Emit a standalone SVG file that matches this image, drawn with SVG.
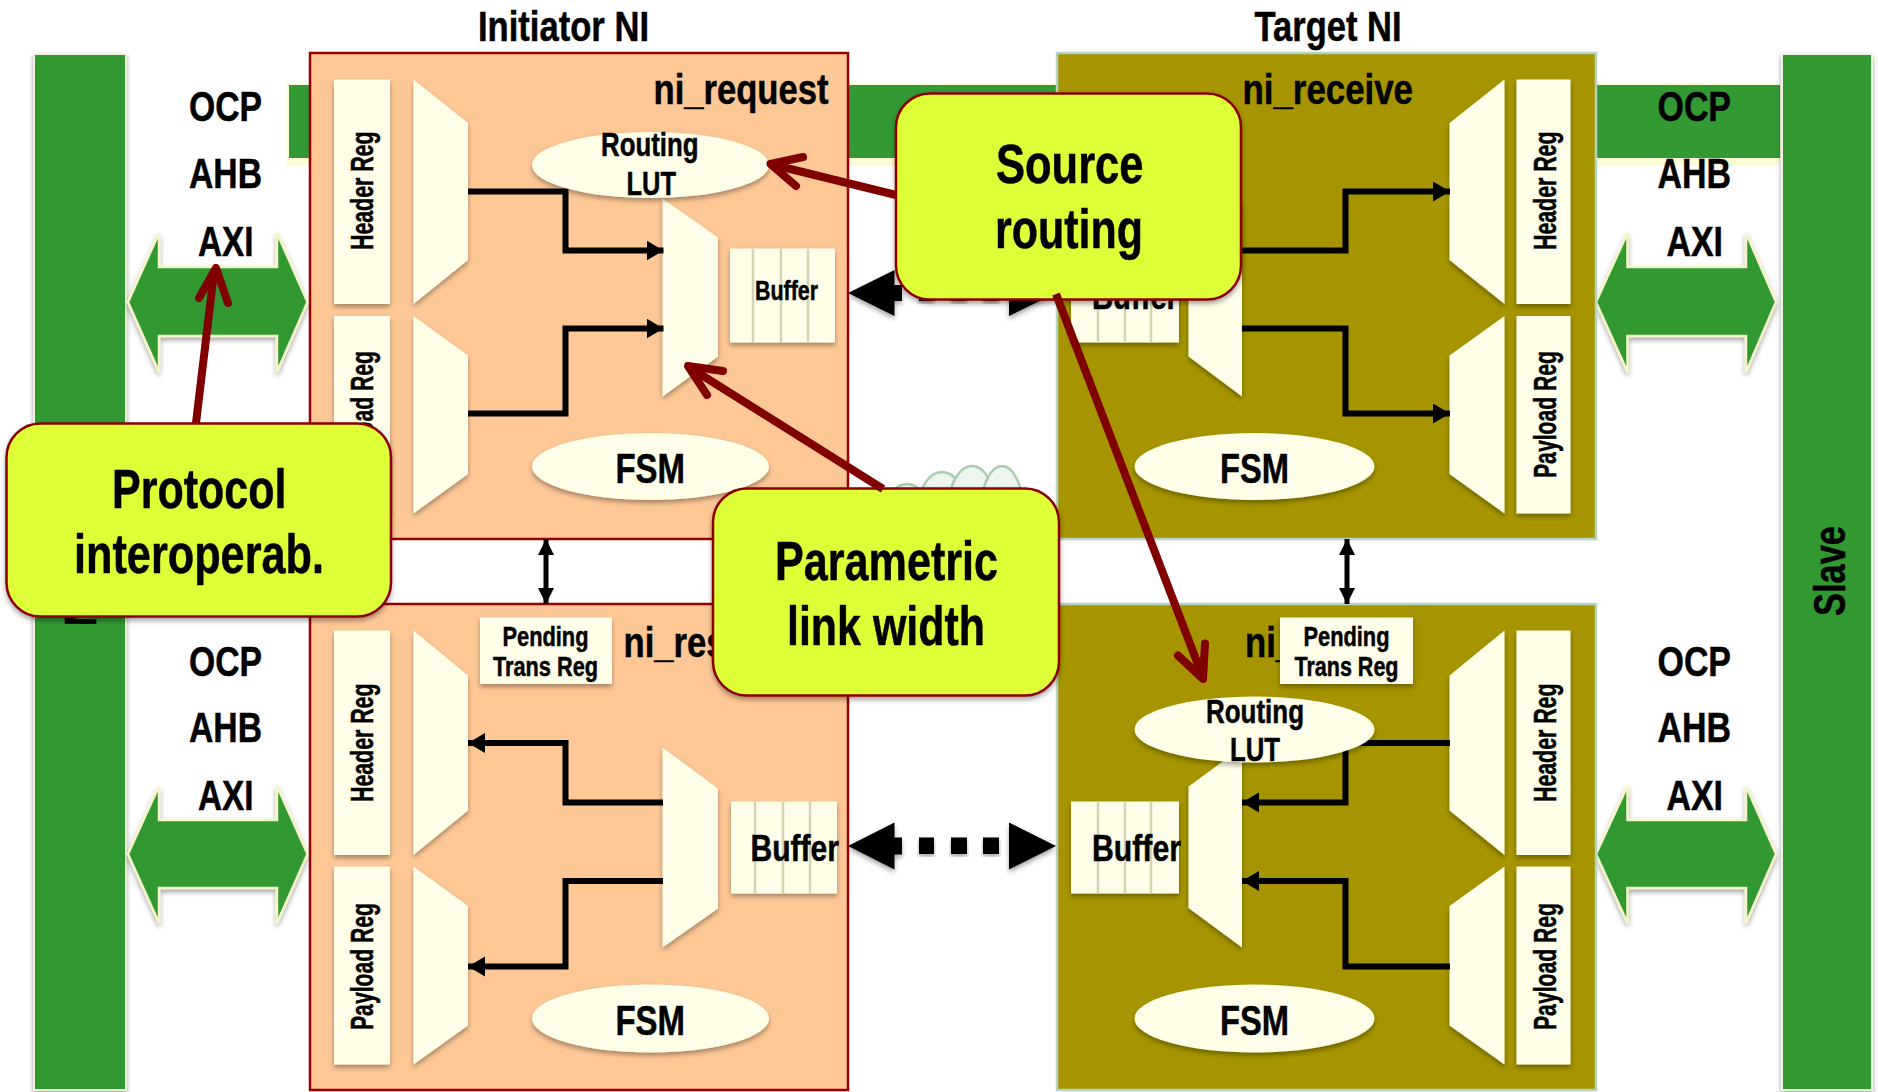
<svg xmlns="http://www.w3.org/2000/svg" width="1878" height="1092" viewBox="0 0 1878 1092">
<style>
text{font-family:"Liberation Sans",Arial,sans-serif;font-weight:700;fill:#000;stroke:#000;stroke-width:.5}
.reg,.mux,.ell,.buf,.pend{fill:#fefee9;filter:url(#sh)}
.bar{fill:#339933;stroke:#eef3dc;stroke-width:2;filter:url(#sh)}
.dbl{fill:#339933;stroke:#f4f6c8;stroke-width:2.5;filter:url(#sh)}
.pi{fill:#fec896;stroke:#990000;stroke-width:2.5}
.pt{fill:#a69500;stroke:#b5d3c5;stroke-width:2.5}
.div{stroke:#d5d3b3;stroke-width:2.5}
.wire{fill:none;stroke:#000;stroke-width:6;stroke-linejoin:miter}
.thin{fill:none;stroke:#000;stroke-width:5}
.call{fill:#deff37;stroke:#8b0000;stroke-width:2.5;filter:url(#sh)}
.red{fill:none;stroke:#800000;stroke-width:8;stroke-linecap:round;stroke-linejoin:round}
.redl{fill:none;stroke:#800000;stroke-width:8}
.cloud{fill:#ecf6ee;stroke:#a9cdb0;stroke-width:2.5}
.dash{fill:#000;filter:url(#sh)}
</style>
<defs>
<filter id="sh" x="-10%" y="-10%" width="120%" height="125%"><feDropShadow dx="0" dy="3" stdDeviation="2.5" flood-color="#000" flood-opacity="0.35"/></filter>
<marker id="ah" markerUnits="userSpaceOnUse" markerWidth="18" markerHeight="22" refX="17" refY="10" orient="auto"><path d="M0 0L17 10L0 20Z" fill="#000"/></marker>
<marker id="th" markerUnits="userSpaceOnUse" markerWidth="18" markerHeight="18" refX="16" refY="8" orient="auto-start-reverse"><path d="M0 0L16 8L0 16Z" fill="#000"/></marker>
</defs>
<rect width="1878" height="1092" fill="#fff"/>

<g id="title-initiator"><text x="478" y="40.500" font-size="42" textLength="171" lengthAdjust="spacingAndGlyphs">Initiator NI</text></g>
<g id="title-target"><text x="1254.500" y="40.500" font-size="42" textLength="147" lengthAdjust="spacingAndGlyphs">Target NI</text></g>

<g id="band"><rect x="286.500" y="83" width="1494" height="83" fill="#fbfbd5"/><rect x="289" y="85" width="1491" height="73" fill="#339933"/></g>

<g id="master"><rect class="bar" x="34" y="54" width="92" height="1036"/>
<text transform="translate(96 626) rotate(-90)" font-size="45" textLength="29" lengthAdjust="spacingAndGlyphs">M</text></g>
<g id="slave"><rect class="bar" x="1782" y="54" width="90" height="1036"/>
<text transform="translate(1844.500 616) rotate(-90)" font-size="45" textLength="90" lengthAdjust="spacingAndGlyphs">Slave</text></g>

<g id="protocols-left-top">
<text x="189" y="120.500" font-size="43" textLength="73" lengthAdjust="spacingAndGlyphs">OCP</text>
<text x="189" y="187.500" font-size="43" textLength="73" lengthAdjust="spacingAndGlyphs">AHB</text>
<polygon class="dbl" points="128,302 159,233 159,267 277,267 277,233 307.500,302 277,372 277,336 159,336 159,372"/>
<text x="198" y="255.500" font-size="43" textLength="55.500" lengthAdjust="spacingAndGlyphs">AXI</text>
</g>
<g id="protocols-left-bottom">
<text x="189" y="675.500" font-size="43" textLength="73" lengthAdjust="spacingAndGlyphs">OCP</text>
<text x="189" y="741.500" font-size="43" textLength="73" lengthAdjust="spacingAndGlyphs">AHB</text>
<polygon class="dbl" points="128,854 159,786 159,820 277,820 277,786 307.500,854 277,923 277,888 159,888 159,923"/>
<text x="198" y="810" font-size="43" textLength="55.500" lengthAdjust="spacingAndGlyphs">AXI</text>
</g>
<g id="protocols-right-top">
<text x="1657.500" y="120.500" font-size="43" textLength="73.500" lengthAdjust="spacingAndGlyphs">OCP</text>
<text x="1657.500" y="187.500" font-size="43" textLength="73.500" lengthAdjust="spacingAndGlyphs">AHB</text>
<polygon class="dbl" points="1596,302 1627.500,233 1627.500,267 1746,267 1746,233 1776,302 1746,372 1746,336 1627.500,336 1627.500,372"/>
<text x="1666.500" y="255.500" font-size="43" textLength="56.500" lengthAdjust="spacingAndGlyphs">AXI</text>
</g>
<g id="protocols-right-bottom">
<text x="1657.500" y="675.500" font-size="43" textLength="73.500" lengthAdjust="spacingAndGlyphs">OCP</text>
<text x="1657.500" y="741.500" font-size="43" textLength="73.500" lengthAdjust="spacingAndGlyphs">AHB</text>
<polygon class="dbl" points="1596,854 1627.500,786 1627.500,820 1746,820 1746,786 1776,854 1746,923 1746,888 1627.500,888 1627.500,923"/>
<text x="1666.500" y="810" font-size="43" textLength="56.500" lengthAdjust="spacingAndGlyphs">AXI</text>
</g>

<g id="cloud"><ellipse class="cloud" cx="907" cy="510" rx="20" ry="26"/><ellipse class="cloud" cx="942" cy="510" rx="24" ry="38"/><ellipse class="cloud" cx="972" cy="510" rx="24" ry="44"/><ellipse class="cloud" cx="1002" cy="510" rx="21" ry="44"/></g>

<g id="ni_request"><rect class="pi" x="310" y="53" width="538" height="486"/>
<text x="653.500" y="103.500" font-size="42" textLength="175" lengthAdjust="spacingAndGlyphs">ni_request</text></g>
<g id="ni_receive"><rect class="pt" x="1057" y="53" width="539" height="486"/>
<text x="1242.500" y="103.500" font-size="42" textLength="170.500" lengthAdjust="spacingAndGlyphs">ni_receive</text></g>
<g id="ni_response"><rect class="pi" x="310" y="604" width="538" height="486"/>
<text x="623.500" y="656.500" font-size="42" textLength="102" lengthAdjust="spacingAndGlyphs">ni_res</text></g>
<g id="ni_target_response"><rect class="pt" x="1057" y="604" width="539" height="486"/>
<text x="1245" y="656.500" font-size="42" textLength="50" lengthAdjust="spacingAndGlyphs">ni_</text></g>

<g id="reg-i-header-top"><rect class="reg" x="334" y="79.500" width="56" height="224.500"/><text transform="translate(373 250) rotate(-90)" font-size="30.500" textLength="118.500" lengthAdjust="spacingAndGlyphs">Header Reg</text></g>
<g id="reg-i-payload-top"><rect class="reg" x="334" y="316" width="56" height="197.500"/><text transform="translate(373 478) rotate(-90)" font-size="30.500" textLength="127" lengthAdjust="spacingAndGlyphs">Payload Reg</text></g>
<g id="reg-i-header-bottom"><rect class="reg" x="334" y="630.500" width="56" height="224.500"/><text transform="translate(373 802) rotate(-90)" font-size="30.500" textLength="118.500" lengthAdjust="spacingAndGlyphs">Header Reg</text></g>
<g id="reg-i-payload-bottom"><rect class="reg" x="334" y="866.500" width="56" height="198"/><text transform="translate(373 1030) rotate(-90)" font-size="30.500" textLength="127" lengthAdjust="spacingAndGlyphs">Payload Reg</text></g>
<g id="reg-t-header-top"><rect class="reg" x="1516.500" y="79.500" width="54" height="224.500"/><text transform="translate(1555.500 250) rotate(-90)" font-size="30.500" textLength="118.500" lengthAdjust="spacingAndGlyphs">Header Reg</text></g>
<g id="reg-t-payload-top"><rect class="reg" x="1516.500" y="316" width="54" height="197.500"/><text transform="translate(1555.500 478) rotate(-90)" font-size="30.500" textLength="127" lengthAdjust="spacingAndGlyphs">Payload Reg</text></g>
<g id="reg-t-header-bottom"><rect class="reg" x="1516.500" y="630.500" width="54" height="224.500"/><text transform="translate(1555.500 802) rotate(-90)" font-size="30.500" textLength="118.500" lengthAdjust="spacingAndGlyphs">Header Reg</text></g>
<g id="reg-t-payload-bottom"><rect class="reg" x="1516.500" y="866.500" width="54" height="198"/><text transform="translate(1555.500 1030) rotate(-90)" font-size="30.500" textLength="127" lengthAdjust="spacingAndGlyphs">Payload Reg</text></g>

<g id="mux-i-top-a"><polygon class="mux" points="413.500,79.500 468,123 468,260 413.500,304"/></g>
<g id="mux-i-top-b"><polygon class="mux" points="413.500,316 468,355.500 468,474 413.500,513.500"/></g>
<g id="mux-i-bottom-a"><polygon class="mux" points="413.500,630.500 468,675.500 468,810.500 413.500,855"/></g>
<g id="mux-i-bottom-b"><polygon class="mux" points="413.500,866.500 468,906 468,1025.500 413.500,1064.500"/></g>
<g id="mux-i-top-c"><polygon class="mux" points="662.500,198.500 718,237.500 718,356.500 662.500,396.500"/></g>
<g id="mux-i-bottom-c"><polygon class="mux" points="662.500,747.500 718,788.500 718,908.500 662.500,947.500"/></g>
<g id="mux-t-top-a"><polygon class="mux" points="1504.500,79.500 1449.500,123 1449.500,260 1504.500,304"/></g>
<g id="mux-t-top-b"><polygon class="mux" points="1504.500,316 1449.500,355.500 1449.500,474 1504.500,513.500"/></g>
<g id="mux-t-bottom-a"><polygon class="mux" points="1504.500,630.500 1449.500,675.500 1449.500,810.500 1504.500,855"/></g>
<g id="mux-t-bottom-b"><polygon class="mux" points="1504.500,866.500 1449.500,906 1449.500,1025.500 1504.500,1064.500"/></g>
<g id="mux-t-top-c"><polygon class="mux" points="1242,198.500 1188.500,237.500 1188.500,356.500 1242,396.500"/></g>
<g id="mux-t-bottom-c"><polygon class="mux" points="1242,747.500 1188.500,786.500 1188.500,908 1242,947.500"/></g>

<g id="buffer-i-top"><rect class="buf" x="730" y="248.500" width="105" height="94"/><path class="div" d="M753 248.500V342.500M781 248.500V342.500M808 248.500V342.500"/><text x="755" y="299.500" font-size="28" textLength="63" lengthAdjust="spacingAndGlyphs">Buffer</text></g>
<g id="buffer-i-bottom"><rect class="buf" x="731" y="801.500" width="106" height="92"/><path class="div" d="M755 801.500V893.500M783 801.500V893.500M810 801.500V893.500"/><text x="750.500" y="861" font-size="37" textLength="88.500" lengthAdjust="spacingAndGlyphs">Buffer</text></g>
<g id="buffer-t-top"><rect class="buf" x="1071" y="248.500" width="108" height="94"/><path class="div" d="M1098 248.500V342.500M1125 248.500V342.500M1151 248.500V342.500"/><text x="1092" y="308.500" font-size="37" textLength="86" lengthAdjust="spacingAndGlyphs">Buffer</text></g>
<g id="buffer-t-bottom"><rect class="buf" x="1071" y="801.500" width="108" height="92"/><path class="div" d="M1098 801.500V893.500M1125 801.500V893.500M1151 801.500V893.500"/><text x="1092" y="861" font-size="37" textLength="89" lengthAdjust="spacingAndGlyphs">Buffer</text></g>

<g id="connectors">
<polyline class="wire" marker-end="url(#ah)" points="468,191.500 565.500,191.500 565.500,250.500 663.500,250.500"/>
<polyline class="wire" marker-end="url(#ah)" points="468,413.500 565.500,413.500 565.500,328.500 663.500,328.500"/>
<polyline class="wire" marker-end="url(#ah)" points="663,802.500 565.500,802.500 565.500,743 468,743"/>
<polyline class="wire" marker-end="url(#ah)" points="663,881 565.500,881 565.500,966.500 468,966.500"/>
<polyline class="wire" marker-end="url(#ah)" points="1242,250.500 1345.500,250.500 1345.500,191.500 1450,191.500"/>
<polyline class="wire" marker-end="url(#ah)" points="1242,328.500 1345.500,328.500 1345.500,413.500 1450,413.500"/>
<polyline class="wire" marker-end="url(#ah)" points="1450,743 1345.500,743 1345.500,802.500 1242,802.500"/>
<polyline class="wire" marker-end="url(#ah)" points="1450,966.500 1345.500,966.500 1345.500,881 1242,881"/>
<line class="thin" marker-start="url(#th)" marker-end="url(#th)" x1="546" y1="539" x2="546" y2="604"/>
<line class="thin" marker-start="url(#th)" marker-end="url(#th)" x1="1347" y1="539" x2="1347" y2="604"/>
<g id="link-top">
<polygon class="dash" points="848,293 894.500,270 894.500,285 902,285 902,301 894.500,301 894.500,316"/>
<rect class="dash" x="919" y="285" width="15" height="16"/><rect class="dash" x="951" y="285" width="16" height="16"/><rect class="dash" x="983" y="285" width="16" height="16"/>
<polygon class="dash" points="1056,293 1009,270 1009,316"/>
</g>
<g id="link-bottom">
<polygon class="dash" points="848,846 894.500,822.500 894.500,837.500 902,837.500 902,854.500 894.500,854.500 894.500,869.500"/>
<rect class="dash" x="919" y="837.500" width="15" height="16.500"/><rect class="dash" x="951" y="837.500" width="16" height="16.500"/><rect class="dash" x="983" y="837.500" width="16" height="16.500"/>
<polygon class="dash" points="1056,846 1009,822.500 1009,869.500"/>
</g>
</g>

<g id="lut-i"><ellipse class="ell" cx="650.500" cy="165" rx="118.500" ry="33"/>
<text x="601" y="156" font-size="33" textLength="97.500" lengthAdjust="spacingAndGlyphs">Routing</text>
<text x="626.500" y="194.500" font-size="33" textLength="49.500" lengthAdjust="spacingAndGlyphs">LUT</text></g>
<g id="lut-t"><ellipse class="ell" cx="1254.500" cy="729.500" rx="120" ry="33"/>
<text x="1206" y="722.500" font-size="33" textLength="98" lengthAdjust="spacingAndGlyphs">Routing</text>
<text x="1230" y="760.500" font-size="33" textLength="50" lengthAdjust="spacingAndGlyphs">LUT</text></g>
<g id="fsm-i-top"><ellipse class="ell" cx="650.500" cy="466.500" rx="118.500" ry="33.500"/><text x="615.500" y="482.500" font-size="42" textLength="69.500" lengthAdjust="spacingAndGlyphs">FSM</text></g>
<g id="fsm-i-bottom"><ellipse class="ell" cx="650.500" cy="1018.500" rx="118.500" ry="34"/><text x="615.500" y="1034.500" font-size="42" textLength="69.500" lengthAdjust="spacingAndGlyphs">FSM</text></g>
<g id="fsm-t-top"><ellipse class="ell" cx="1254.500" cy="466.500" rx="120" ry="33.500"/><text x="1220" y="482.500" font-size="42" textLength="69" lengthAdjust="spacingAndGlyphs">FSM</text></g>
<g id="fsm-t-bottom"><ellipse class="ell" cx="1254.500" cy="1018.500" rx="120" ry="34"/><text x="1220" y="1034.500" font-size="42" textLength="69" lengthAdjust="spacingAndGlyphs">FSM</text></g>

<g id="pending-i"><rect class="pend" x="480" y="617.500" width="132" height="66.500"/>
<text x="502.500" y="645.500" font-size="28" textLength="86" lengthAdjust="spacingAndGlyphs">Pending</text>
<text x="493" y="676" font-size="28" textLength="105" lengthAdjust="spacingAndGlyphs">Trans Reg</text></g>
<g id="pending-t"><rect class="pend" x="1280" y="617.500" width="133" height="66.500"/>
<text x="1303.500" y="645.500" font-size="28" textLength="86" lengthAdjust="spacingAndGlyphs">Pending</text>
<text x="1294.500" y="676" font-size="28" textLength="104" lengthAdjust="spacingAndGlyphs">Trans Reg</text></g>

<g id="callout-protocol"><rect class="call" x="6.500" y="423.500" width="384.500" height="193" rx="34" ry="34"/>
<text x="112" y="508" font-size="56" textLength="174.500" lengthAdjust="spacingAndGlyphs">Protocol</text>
<text x="74" y="573" font-size="56" textLength="250" lengthAdjust="spacingAndGlyphs">interoperab.</text></g>
<g id="callout-source"><rect class="call" x="896" y="93.500" width="345" height="206" rx="34" ry="34"/>
<text x="996" y="183" font-size="56" textLength="147.500" lengthAdjust="spacingAndGlyphs">Source</text>
<text x="995" y="248" font-size="56" textLength="148" lengthAdjust="spacingAndGlyphs">routing</text></g>
<g id="callout-parametric"><rect class="call" x="713" y="488.500" width="346" height="207" rx="34" ry="34"/>
<text x="775" y="580" font-size="56" textLength="223" lengthAdjust="spacingAndGlyphs">Parametric</text>
<text x="787" y="645" font-size="56" textLength="198" lengthAdjust="spacingAndGlyphs">link width</text></g>

<g id="callout-arrows">
<line class="redl" x1="196" y1="423" x2="214" y2="272"/><polyline class="red" points="199,298 216,268 228,303"/>
<line class="redl" x1="896" y1="195" x2="774" y2="165"/><polyline class="red" points="803,157 770.500,164 796,186"/>
<line class="redl" x1="883" y1="489" x2="692" y2="369"/><polyline class="red" points="723,371 688,366 707,395"/>
<line class="redl" x1="1056" y1="294" x2="1202" y2="675"/><polyline class="red" points="1205,643.500 1203,679 1178,655.500"/>
</g>
</svg>
